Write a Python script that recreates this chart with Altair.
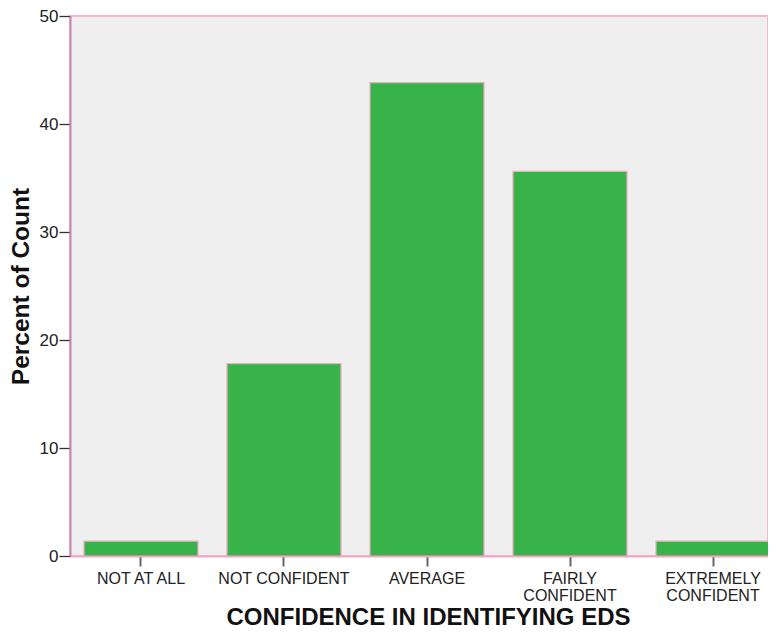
import altair as alt
import pandas as pd

categories = ["NOT AT ALL", "NOT CONFIDENT", "AVERAGE", "FAIRLY CONFIDENT", "EXTREMELY CONFIDENT"]
percents = [1.37, 17.81, 43.84, 35.62, 1.37]

df = pd.DataFrame({"category": categories, "percent": percents})

FONT = "Liberation Sans"

chart = alt.Chart(df).mark_bar(
    color="#38B34A", stroke="#F2A7C6", strokeWidth=1.2
).encode(
    x=alt.X(
        "category:N",
        sort=categories,
        scale=alt.Scale(range=[0, 714], paddingInner=0.203, paddingOuter=0.098),
        axis=alt.Axis(
            title="CONFIDENCE IN IDENTIFYING EDS",
            titleFont=FONT, titleFontSize=24, titleFontWeight="bold", titleColor="#111111",
            titleX=358, titleY=61, titleBaseline="middle", titleAnchor="middle",
            labelFont=FONT, labelFontSize=16, labelColor="#222222", labelAngle=0,
            labelPadding=4, labelLineHeight=17, labelBaseline="top",
            labelExpr="datum.label == 'FAIRLY CONFIDENT' || datum.label == 'EXTREMELY CONFIDENT' ? split(datum.label, ' ') : datum.label",
            tickSize=10, tickColor="#666666", tickWidth=2,
            domainColor="#F2A7C6", domainWidth=2,
            grid=False,
        ),
    ),
    y=alt.Y(
        "percent:Q",
        scale=alt.Scale(domain=[0, 50], nice=False),
        axis=alt.Axis(
            title="Percent of Count",
            titleFont=FONT, titleFontSize=24.5, titleFontWeight="bold", titleColor="#111111",
            titleX=-49, titleY=270, titleAngle=270, titleAlign="center", titleBaseline="middle",
            labelFont=FONT, labelFontSize=17, labelColor="#222222",
            labelPadding=1, values=[0, 10, 20, 30, 40, 50],
            tickSize=11, tickColor="#333333", tickWidth=1.3,
            domainColor="#C48AA8", domainWidth=2,
            grid=False,
        ),
    ),
).properties(
    width=698,
    height=540,
    padding={"left": 62, "top": 8, "right": 0, "bottom": 74},
    autosize=alt.AutoSizeParams(type="none"),
    background="white",
).configure_view(
    fill="#EFEFEF", stroke="#F4B8CF", strokeWidth=2
)

chart.save("out.html", embed_options={"renderer": "svg", "actions": False})
